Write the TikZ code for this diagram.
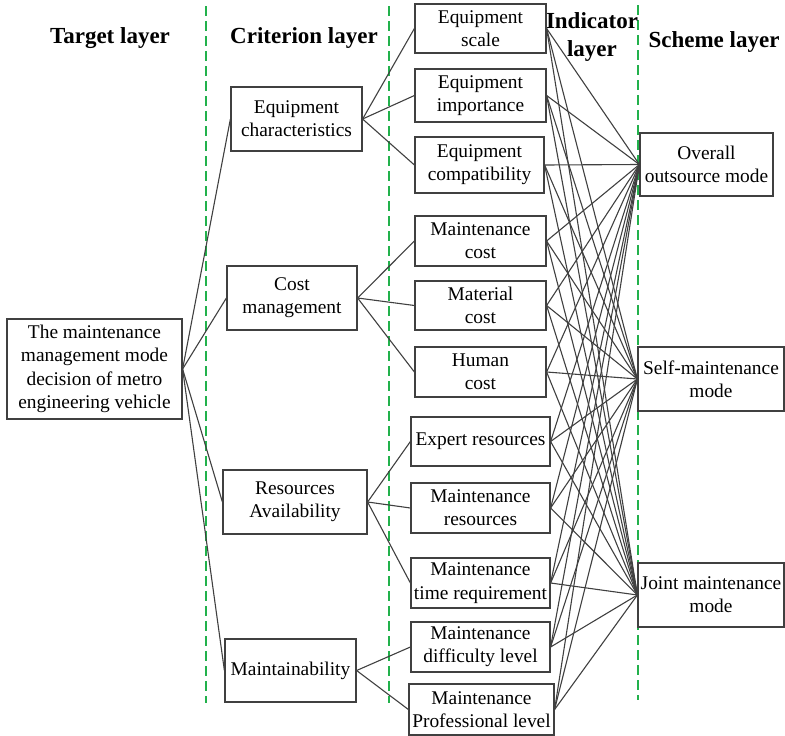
\documentclass[tikz,border=0pt]{standalone}
\usepackage{fontspec}
\setmainfont{Liberation Serif}
\definecolor{sepgreen}{RGB}{34,177,76}
\definecolor{linegray}{RGB}{64,64,64}
\begin{document}
\begin{tikzpicture}[x=1pt, y=-1pt,
    box/.style={draw=linegray, line width=1.2pt, inner sep=0pt, align=center,
        font=\fontsize{19.4}{23.3}\selectfont},
    layertitle/.style={align=center, font=\fontsize{23}{28}\selectfont\bfseries},
    link/.style={linegray, line width=1.1pt},
    sep/.style={sepgreen, line width=1.6pt, dash pattern=on 10pt off 5pt}]
    \useasboundingbox (0,0) rectangle (785,736);

    % Layer separators
    \draw[sep] (206,6) -- (206,703);
    \draw[sep] (389,6) -- (389,703);
    \draw[sep] (638,5) -- (638,700);

    % Layer titles
    \node[layertitle] (ttarget) at (110,38) {Target layer};
    \node[layertitle] (tcrit) at (304,38) {Criterion layer};
    \node[layertitle] (tind) at (592,37) {Indicator\\layer};
    \node[layertitle] (tscheme) at (714,42) {Scheme layer};

    % Target layer
    \node[box, minimum width=175, minimum height=100] (tgt) at (94.5,369)
        {The maintenance\\management mode\\decision of metro\\engineering vehicle};

    % Criterion layer
    \node[box, minimum width=131, minimum height=64] (crit1) at (296.5,119) {Equipment\\characteristics};
    \node[box, minimum width=130, minimum height=64] (crit2) at (292,298) {Cost\\management};
    \node[box, minimum width=144, minimum height=64] (crit3) at (295,502) {Resources\\Availability};
    \node[box, minimum width=131, minimum height=63] (crit4) at (290.5,670.5) {Maintainability};

    % Indicator layer
    \node[box, minimum width=131, minimum height=49] (ind1) at (480.5,28.5) {Equipment\\scale};
    \node[box, minimum width=131, minimum height=53] (ind2) at (480.5,95.5) {Equipment\\importance};
    \node[box, minimum width=129, minimum height=56] (ind3) at (479.5,165) {Equipment\\compatibility};
    \node[box, minimum width=131, minimum height=50] (ind4) at (480.5,241) {Maintenance\\cost};
    \node[box, minimum width=131, minimum height=49] (ind5) at (480.5,305.5) {Material\\cost};
    \node[box, minimum width=131, minimum height=50] (ind6) at (480.5,372) {Human\\cost};
    \node[box, minimum width=139, minimum height=49] (ind7) at (480.5,441.5) {Expert resources};
    \node[box, minimum width=139, minimum height=50] (ind8) at (480.5,508) {Maintenance\\resources};
    \node[box, minimum width=139, minimum height=50] (ind9) at (480.5,583) {Maintenance\\time requirement};
    \node[box, minimum width=139, minimum height=50] (ind10) at (480.5,647) {Maintenance\\difficulty level};
    \node[box, minimum width=145, minimum height=51] (ind11) at (481.5,709.5) {Maintenance\\Professional level};

    % Scheme layer
    \node[box, minimum width=133, minimum height=63] (sch1) at (706.5,164.5) {Overall\\outsource mode};
    \node[box, minimum width=146, minimum height=64] (sch2) at (711,379) {Self-maintenance\\mode};
    \node[box, minimum width=146, minimum height=64] (sch3) at (711,595) {Joint maintenance\\mode};

    % Target to criteria
    \foreach \c in {1,...,4} {
        \draw[link] (tgt.east) -- (crit\c.west);
    }

    % Criteria to indicators
    \foreach \i in {1,2,3} {\draw[link] (crit1.east) -- (ind\i.west);}
    \foreach \i in {4,5,6} {\draw[link] (crit2.east) -- (ind\i.west);}
    \foreach \i in {7,8,9} {\draw[link] (crit3.east) -- (ind\i.west);}
    \foreach \i in {10,11} {\draw[link] (crit4.east) -- (ind\i.west);}

    % Indicators to schemes
    \foreach \i in {1,...,11} {
        \foreach \j in {1,2,3} {
            \draw[link] (ind\i.east) -- (sch\j.west);
        }
    }
\end{tikzpicture}
\end{document}
